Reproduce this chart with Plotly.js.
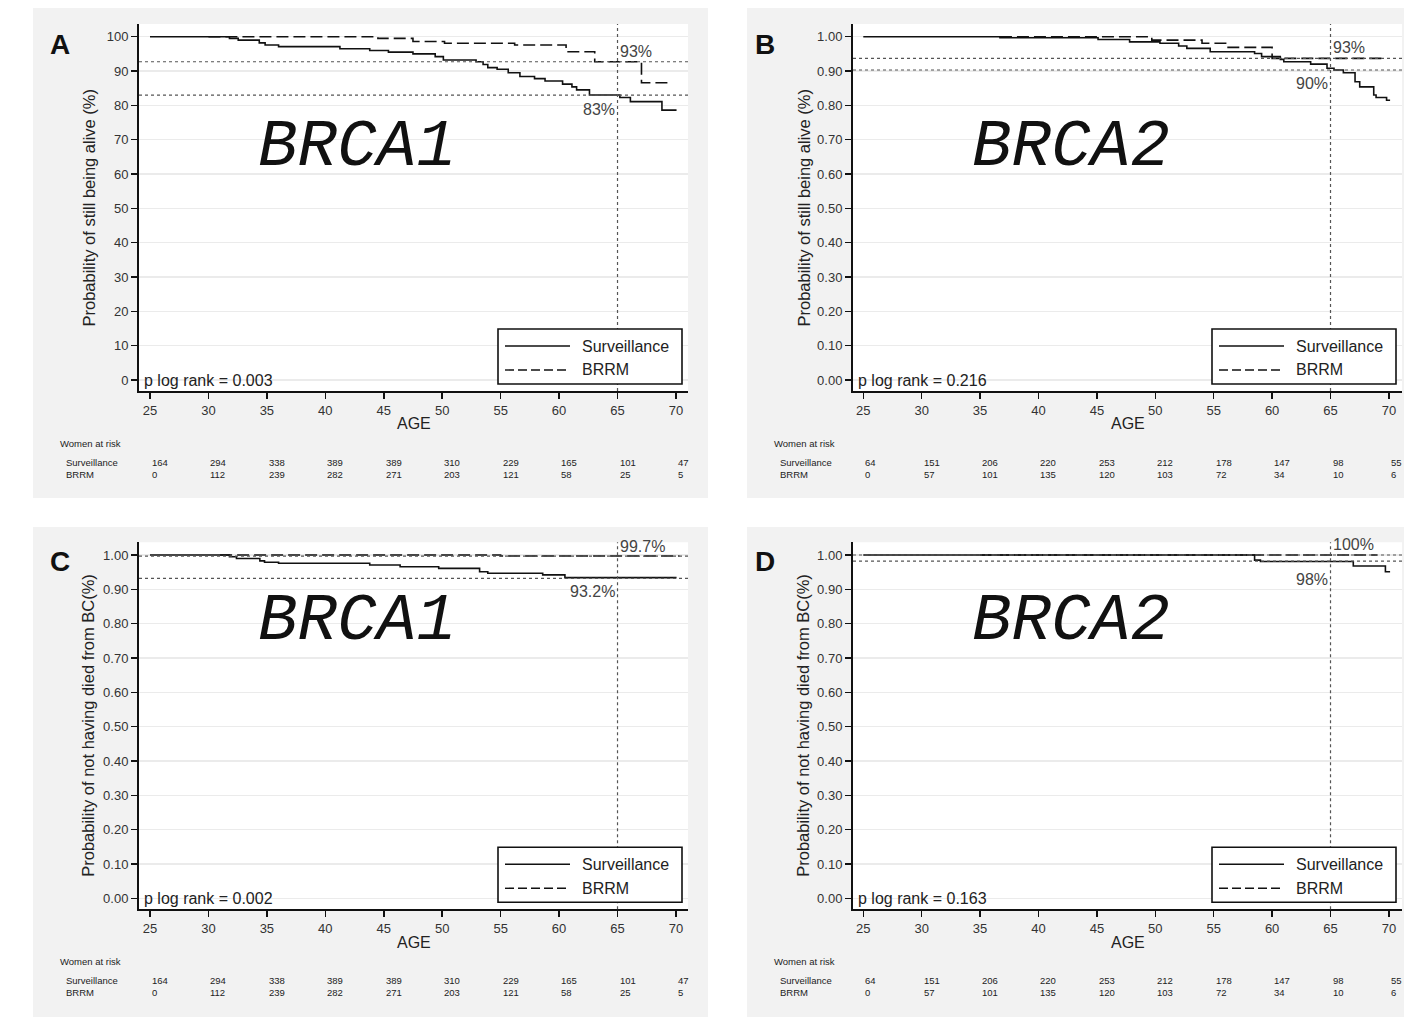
<!DOCTYPE html>
<html><head><meta charset="utf-8">
<script src="https://cdn.plot.ly/plotly-3.0.1.min.js"></script>
<style>html,body{margin:0;padding:0;background:#fff;} #chart{width:1404px;height:1033px;}</style>
</head><body><div id="chart"></div>
<script>
// ---------------- DATA ----------------
const ageTicks = [25, 30, 35, 40, 45, 50, 55, 60, 65, 70];
const yTicksPct = [0, 10, 20, 30, 40, 50, 60, 70, 80, 90, 100];
const yTickTextPct = ['0','10','20','30','40','50','60','70','80','90','100'];
const yTicksFrac = [0, 0.1, 0.2, 0.3, 0.4, 0.5, 0.6, 0.7, 0.8, 0.9, 1.0];
const yTickTextFrac = ['0.00','0.10','0.20','0.30','0.40','0.50','0.60','0.70','0.80','0.90','1.00'];
const seriesNames = ['Surveillance', 'BRRM'];
const refAge = 65;

// Panel A: BRCA1, overall survival (%)
const A_survAge = [25, 31.8, 32.55, 34.35, 34.85, 36.0, 41.25, 43.8, 45.4, 47.5, 49.4, 50.1, 52.9, 53.5, 53.9, 54.7, 55.65, 56.65, 57.9, 58.8, 60.3, 61.1, 61.5, 62.6, 65.2, 66.1, 68.8, 70.05];
const A_survVal = [100, 99.5, 99.0, 98.2, 97.6, 97.1, 96.5, 96.0, 95.5, 95.0, 94.2, 93.2, 92.7, 91.9, 91.0, 90.5, 89.5, 88.4, 87.8, 87.1, 86.2, 85.4, 84.5, 83.0, 82.3, 81.1, 78.6, 78.6];
const A_brrmAge = [30, 44.5, 47.5, 50.2, 56.2, 60.6, 63.05, 67.05, 69.5];
const A_brrmVal = [100, 99.5, 98.6, 98.1, 97.6, 95.6, 92.7, 86.6, 86.6];
const A_refVal = [92.7, 83.0];
const A_refLabel = ['93%', '83%'];
const A_pText = 'p log rank = 0.003';

// Panel B: BRCA2, overall survival
const B_survAge = [25, 36.7, 45.1, 47.8, 50.4, 52.0, 52.7, 54.7, 58.5, 59.1, 60.7, 61.0, 63.3, 64.7, 65.3, 66.1, 67.1, 67.5, 68.7, 68.9, 69.8, 70.1];
const B_survVal = [1.0, 0.997, 0.992, 0.985, 0.981, 0.973, 0.966, 0.956, 0.951, 0.942, 0.934, 0.927, 0.920, 0.908, 0.903, 0.895, 0.869, 0.854, 0.830, 0.823, 0.815, 0.815];
const B_brrmAge = [36.7, 49.7, 54.0, 56.1, 60.0, 69.35];
const B_brrmVal = [1.0, 0.990, 0.981, 0.969, 0.937, 0.937];
const B_refVal = [0.937, 0.903];
const B_refLabel = ['93%', '90%'];
const B_pText = 'p log rank = 0.216';

// Panel C: BRCA1, not died from BC
const C_survAge = [25, 31.8, 32.4, 34.4, 34.8, 36.0, 43.8, 46.4, 49.7, 53.2, 53.9, 58.6, 60.5, 70.05];
const C_survVal = [1.0, 0.995, 0.990, 0.983, 0.979, 0.976, 0.971, 0.966, 0.961, 0.951, 0.947, 0.942, 0.934, 0.934];
const C_brrmAge = [31, 55, 70.3];
const C_brrmVal = [1.0, 0.997, 0.997];
const C_refVal = [0.997, 0.932];
const C_refLabel = ['99.7%', '93.2%'];
const C_pText = 'p log rank = 0.002';

// Panel D: BRCA2, not died from BC
const D_survAge = [25, 58.5, 59.0, 66.95, 69.7, 70.1];
const D_survVal = [1.0, 0.985, 0.981, 0.968, 0.951, 0.951];
const D_brrmAge = [35, 69.0];
const D_brrmVal = [1.0, 1.0];
const D_refVal = [1.0, 0.982];
const D_refLabel = ['100%', '98%'];
const D_pText = 'p log rank = 0.163';

// Women at risk
const brca1RiskSurv = [164, 294, 338, 389, 389, 310, 229, 165, 101, 47];
const brca1RiskBrrm = [0, 112, 239, 282, 271, 203, 121, 58, 25, 5];
const brca2RiskSurv = [64, 151, 206, 220, 253, 212, 178, 147, 98, 55];
const brca2RiskBrrm = [0, 57, 101, 135, 120, 103, 72, 34, 10, 6];

const yTitleOS = 'Probability of still being alive (%)';
const yTitleBC = 'Probability of not having died from BC(%)';

// ---------------- LAYOUT HELPERS ----------------
const W = 1404, H = 1033;
const px = x => x / W;
const py = y => 1 - y / H;
const FONT = 'Liberation Sans, Arial, Helvetica, sans-serif';

const cols = [
  {plot: [139, 688], card: [33, 708], xr: [24.06, 71.03], ytitleX: 88, letterX: 60},
  {plot: [853, 1402], card: [747, 1404], xr: [24.12, 71.12], ytitleX: 803, letterX: 765}
];
const rows = [
  {plot: [24, 391], card: [8, 498], letterY: 44, geneY: 147},
  {plot: [542.3, 909.3], card: [527, 1017], letterY: 561, geneY: 621}
];

const panels = [
  {letter: 'A', gene: 'BRCA1', col: 0, row: 0, pct: true, ytitle: yTitleOS,
   surv: [A_survAge, A_survVal], brrm: [A_brrmAge, A_brrmVal], ref: A_refVal, refLab: A_refLabel, p: A_pText,
   risk: [brca1RiskSurv, brca1RiskBrrm], labShift: [10, -14]},
  {letter: 'B', gene: 'BRCA2', col: 1, row: 0, pct: false, ytitle: yTitleOS,
   surv: [B_survAge, B_survVal], brrm: [B_brrmAge, B_brrmVal], ref: B_refVal, refLab: B_refLabel, p: B_pText,
   risk: [brca2RiskSurv, brca2RiskBrrm], labShift: [11, -13]},
  {letter: 'C', gene: 'BRCA1', col: 0, row: 1, pct: false, ytitle: yTitleBC,
   surv: [C_survAge, C_survVal], brrm: [C_brrmAge, C_brrmVal], ref: C_refVal, refLab: C_refLabel, p: C_pText,
   risk: [brca1RiskSurv, brca1RiskBrrm], labShift: [10, -13]},
  {letter: 'D', gene: 'BRCA2', col: 1, row: 1, pct: false, ytitle: yTitleBC,
   surv: [D_survAge, D_survVal], brrm: [D_brrmAge, D_brrmVal], ref: D_refVal, refLab: D_refLabel, p: D_pText,
   risk: [brca2RiskSurv, brca2RiskBrrm], labShift: [11, -18]}
];

const traces = [];
const shapes = [];
const annotations = [];
const layout = {
  width: W, height: H,
  margin: {l: 0, r: 0, t: 0, b: 0},
  paper_bgcolor: '#ffffff',
  plot_bgcolor: 'rgba(0,0,0,0)',
  showlegend: false,
  font: {family: FONT, color: '#222'}
};

function txt(text, x, y, o) {
  return Object.assign({text: text, x: px(x), y: py(y), xref: 'paper', yref: 'paper',
    showarrow: false, xanchor: 'center', yanchor: 'middle',
    font: {family: FONT, size: 12, color: '#222'}}, o || {});
}

// card backgrounds first, then white plot areas
panels.forEach(p => {
  const c = cols[p.col], r = rows[p.row];
  shapes.push({type: 'rect', xref: 'paper', yref: 'paper', layer: 'below',
    x0: px(c.card[0]), x1: px(c.card[1]), y0: py(r.card[1]), y1: py(r.card[0]),
    fillcolor: '#f2f2f2', line: {width: 0}});
});
panels.forEach(p => {
  const c = cols[p.col], r = rows[p.row];
  shapes.push({type: 'rect', xref: 'paper', yref: 'paper', layer: 'below',
    x0: px(c.plot[0]), x1: px(c.plot[1]), y0: py(r.plot[1]), y1: py(r.plot[0]),
    fillcolor: '#ffffff', line: {width: 0}});
});

panels.forEach((p, i) => {
  const c = cols[p.col], r = rows[p.row];
  const n = i === 0 ? '' : String(i + 1);
  const xa = 'x' + n, ya = 'y' + n;
  const yr = p.pct ? [-3.2, 103.7] : [-0.032, 1.037];

  layout['xaxis' + n] = {
    domain: [px(c.plot[0]), px(c.plot[1])], range: c.xr, anchor: ya,
    tickvals: ageTicks, ticktext: ageTicks.map(String),
    showline: true, linecolor: '#111', linewidth: 2, mirror: false,
    ticks: 'outside', ticklen: 6, tickwidth: 1.5, tickcolor: '#111',
    showgrid: false, zeroline: false, fixedrange: true,
    tickfont: {family: FONT, size: 13, color: '#333'}
  };
  layout['yaxis' + n] = {
    domain: [py(r.plot[1]), py(r.plot[0])], range: yr, anchor: xa,
    tickvals: p.pct ? yTicksPct : yTicksFrac, ticktext: p.pct ? yTickTextPct : yTickTextFrac,
    showline: true, linecolor: '#111', linewidth: 2, mirror: false,
    ticks: 'outside', ticklen: 6, tickwidth: 1.5, tickcolor: '#111',
    showgrid: true, gridcolor: '#ebebeb', gridwidth: 1.5, zeroline: false, fixedrange: true,
    tickfont: {family: FONT, size: 13, color: '#333'}
  };

  // KM curves
  traces.push({type: 'scatter', mode: 'lines', x: p.surv[0], y: p.surv[1], xaxis: xa, yaxis: ya,
    name: seriesNames[0], line: {shape: 'hv', color: '#111', width: 1.6}, hoverinfo: 'skip'});
  traces.push({type: 'scatter', mode: 'lines', x: p.brrm[0], y: p.brrm[1], xaxis: xa, yaxis: ya,
    name: seriesNames[1], line: {shape: 'hv', color: '#111', width: 1.6, dash: '12px,5px'}, hoverinfo: 'skip'});

  // reference lines
  p.ref.forEach(v => {
    shapes.push({type: 'line', xref: xa + ' domain', yref: ya, x0: 0, x1: 1, y0: v, y1: v,
      line: {color: '#555', width: 1.2, dash: 'dot'}});
  });
  shapes.push({type: 'line', xref: xa, yref: ya + ' domain', x0: refAge, x1: refAge, y0: 0, y1: 1,
    line: {color: '#555', width: 1.2, dash: 'dot'}});
  annotations.push({text: p.refLab[0], x: refAge, y: p.ref[0], xref: xa, yref: ya, showarrow: false,
    xanchor: 'left', yanchor: 'middle', xshift: 0, yshift: p.labShift[0],
    font: {family: FONT, size: 16, color: '#444'}});
  annotations.push({text: p.refLab[1], x: refAge, y: p.ref[1], xref: xa, yref: ya, showarrow: false,
    xanchor: 'right', yanchor: 'middle', xshift: -1, yshift: p.labShift[1],
    font: {family: FONT, size: 16, color: '#444'}});

  // p log rank
  annotations.push(txt(p.p, c.plot[0] + 3, r.plot[1] - 11, {xanchor: 'left',
    font: {family: FONT, size: 16, color: '#222'}}));

  // legend box
  const bx1 = c.plot[1] - 6, bx0 = bx1 - 184, by1 = r.plot[1] - 7, by0 = by1 - 55;
  shapes.push({type: 'rect', xref: 'paper', yref: 'paper', x0: px(bx0), x1: px(bx1), y0: py(by1), y1: py(by0),
    fillcolor: '#ffffff', line: {color: '#111', width: 1.6}});
  shapes.push({type: 'line', xref: 'paper', yref: 'paper', x0: px(bx0 + 7), x1: px(bx0 + 72), y0: py(by0 + 17), y1: py(by0 + 17),
    line: {color: '#111', width: 1.4}});
  shapes.push({type: 'line', xref: 'paper', yref: 'paper', x0: px(bx0 + 7), x1: px(bx0 + 72), y0: py(by0 + 41), y1: py(by0 + 41),
    line: {color: '#111', width: 1.4, dash: '9px,4px'}});
  annotations.push(txt(seriesNames[0], bx0 + 82, by0 + 17, {xanchor: 'left', font: {family: FONT, size: 16, color: '#222'}}));
  annotations.push(txt(seriesNames[1], bx0 + 82, by0 + 41, {xanchor: 'left', font: {family: FONT, size: 16, color: '#222'}}));

  // AGE title
  annotations.push(txt('AGE', (c.plot[0] + c.plot[1]) / 2, r.plot[1] + 33, {font: {family: FONT, size: 16, color: '#222'}}));

  // y title
  annotations.push(txt(p.ytitle, c.ytitleX, (r.plot[0] + r.plot[1]) / 2, {textangle: -90,
    font: {family: FONT, size: 16.5, color: '#222'}}));

  // panel letter
  annotations.push(txt('<b>' + p.letter + '</b>', c.letterX, r.letterY, {font: {family: FONT, size: 28, color: '#111'}}));

  // gene label
  annotations.push(txt(p.gene, (c.plot[0] + c.plot[1]) / 2 - 57, r.geneY,
    {font: {family: 'Liberation Mono, DejaVu Sans Mono, monospace', size: 66, color: '#111', style: 'italic'}}));

  // Women at risk table
  const tY = r.plot[1] + 52;
  annotations.push(txt('Women at risk', c.card[0] + 25, tY, {xanchor: 'left', font: {family: FONT, size: 9.5, color: '#222'}}));
  annotations.push(txt(seriesNames[0], c.card[0] + 31, tY + 19, {xanchor: 'left', font: {family: FONT, size: 9.5, color: '#222'}}));
  annotations.push(txt(seriesNames[1], c.card[0] + 31, tY + 31.5, {xanchor: 'left', font: {family: FONT, size: 9.5, color: '#222'}}));
  ageTicks.forEach((a, k) => {
    annotations.push({text: String(p.risk[0][k]), x: a, xref: xa, y: py(tY + 19), yref: 'paper', showarrow: false,
      xanchor: 'left', yanchor: 'middle', font: {family: FONT, size: 9.5, color: '#222'}});
    annotations.push({text: String(p.risk[1][k]), x: a, xref: xa, y: py(tY + 31.5), yref: 'paper', showarrow: false,
      xanchor: 'left', yanchor: 'middle', font: {family: FONT, size: 9.5, color: '#222'}});
  });
});

layout.shapes = shapes;
layout.annotations = annotations;
Plotly.newPlot('chart', traces, layout, {displayModeBar: false, staticPlot: true});
</script></body></html>
